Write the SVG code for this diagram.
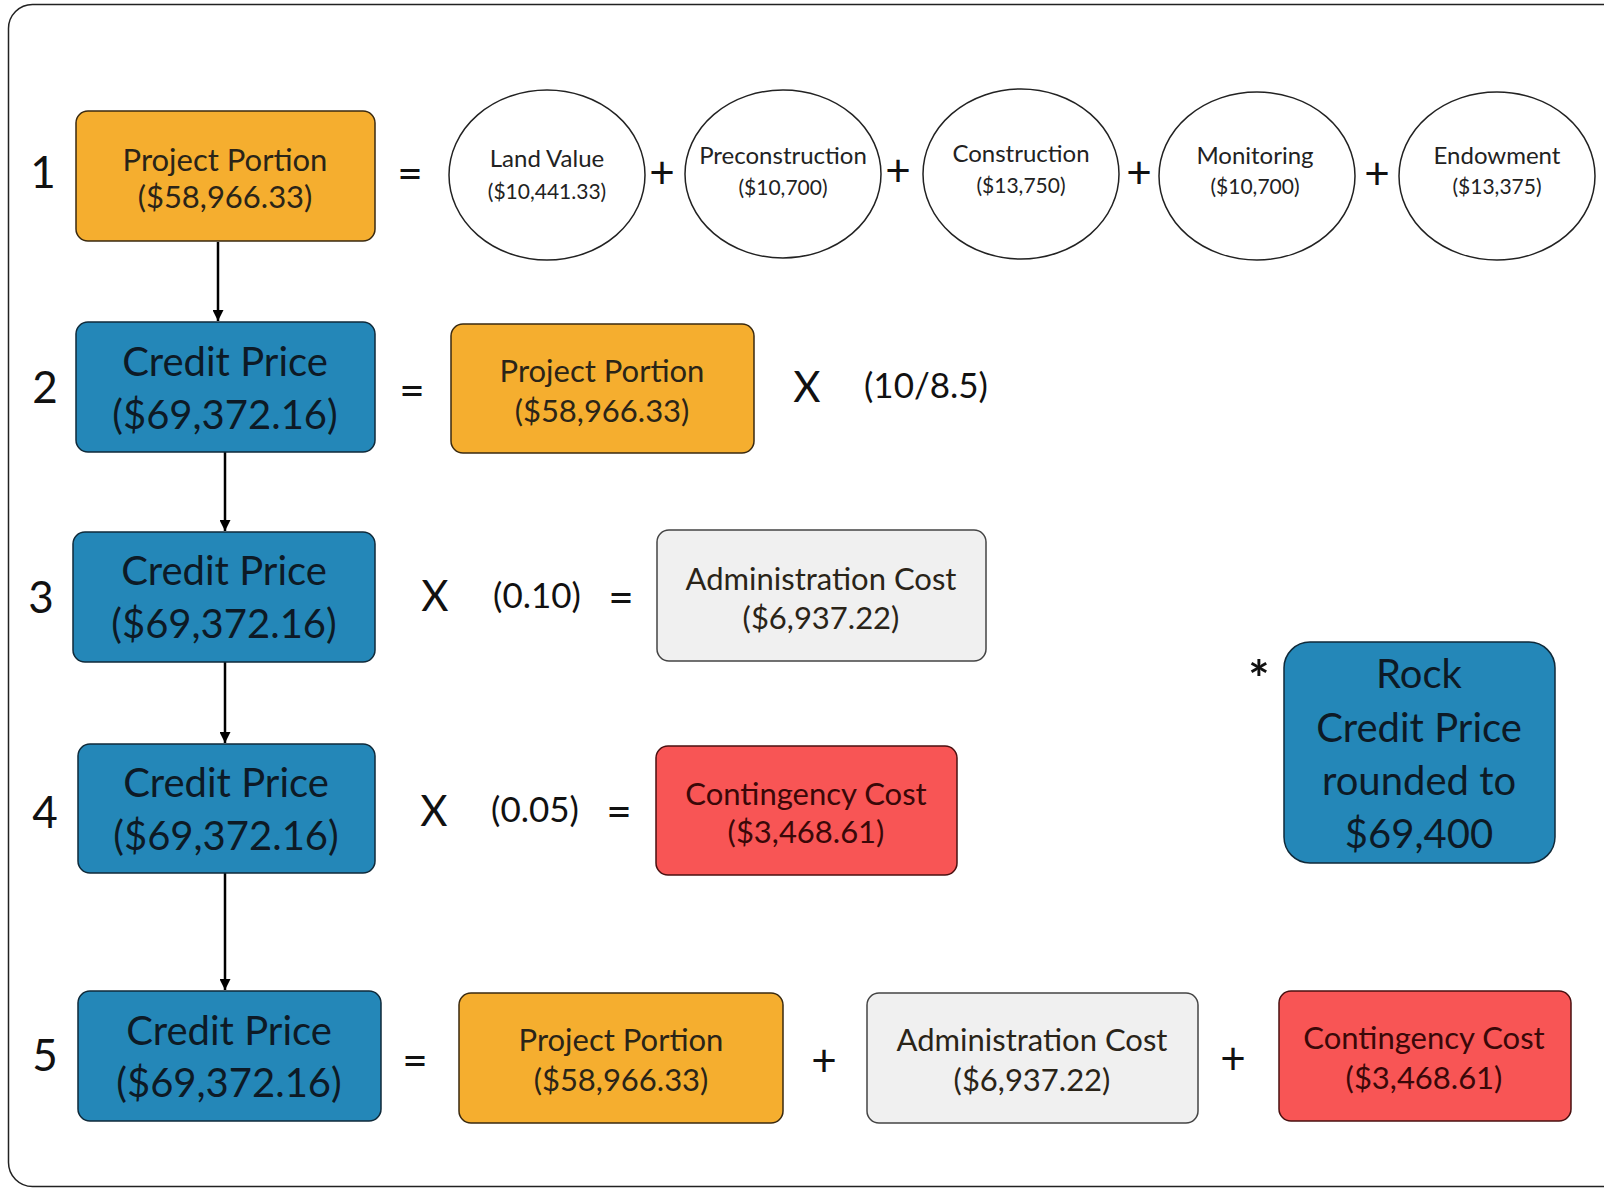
<svg xmlns="http://www.w3.org/2000/svg" width="1604" height="1189" viewBox="0 0 1604 1189">
<defs>
<marker id="arr" viewBox="0 0 10 10" refX="10" refY="5" markerWidth="14" markerHeight="11" orient="auto" markerUnits="userSpaceOnUse"><path d="M0,0 L10,5 L0,10 z" fill="#000"/></marker>
<style>
text{font-family:Lato,"Liberation Sans",sans-serif;text-anchor:middle;dominant-baseline:central;}
.num{font-size:44px;fill:#111;}
.op{font-size:44px;fill:#111;}
.par{font-size:35px;fill:#111;}
.x{font-size:42px;fill:#111;}
.star{font-size:50px;fill:#111;font-weight:bold;}
.orange{fill:#F5AE2F;stroke:#3a2a10;stroke-width:1.5;}
.blue{fill:#2487B8;stroke:#0f2a3a;stroke-width:1.5;}
.gray{fill:#F0F0F0;stroke:#444;stroke-width:1.5;}
.red{fill:#F85555;stroke:#4a1010;stroke-width:1.5;}
.ell{fill:#fff;stroke:#222;stroke-width:1.5;}
.t30{font-size:31px;fill:#2a2418;}
.t40{font-size:40px;fill:#0d1a26;}
.tr{font-size:31px;fill:#3a0808;}
.e1{font-size:24px;fill:#222;}
.e2{font-size:21px;fill:#222;}
.conn{stroke:#000;stroke-width:2.5;fill:none;}
</style>
</defs>
<rect x="8.5" y="4.5" width="1620" height="1182" rx="24" fill="#fff" stroke="#222" stroke-width="1.5"/>

<g id="connectors">
<line class="conn" x1="218" y1="242" x2="218" y2="321" marker-end="url(#arr)"/>
<line class="conn" x1="225" y1="452" x2="225" y2="531" marker-end="url(#arr)"/>
<line class="conn" x1="225" y1="662" x2="225" y2="743" marker-end="url(#arr)"/>
<line class="conn" x1="225" y1="873" x2="225" y2="990" marker-end="url(#arr)"/>
</g>

<g id="row1">
<text class="num" x="43" y="171">1</text>
<g id="pp1"><rect class="orange" x="76" y="111" width="299" height="130" rx="12"/><text class="t30" x="225" y="159">Project Portion</text><text class="t30" x="225" y="196">($58,966.33)</text></g>
<text class="op" x="410" y="172">=</text>
<g id="land"><ellipse class="ell" cx="547" cy="175" rx="98" ry="85"/><text class="e1" x="547" y="157">Land Value</text><text class="e2" x="547" y="190">($10,441.33)</text></g>
<text class="op" x="662" y="171">+</text>
<g id="precon"><ellipse class="ell" cx="783" cy="174" rx="98" ry="84"/><text class="e1" x="783" y="154">Preconstruction</text><text class="e2" x="783" y="186">($10,700)</text></g>
<text class="op" x="898" y="169">+</text>
<g id="constr"><ellipse class="ell" cx="1021" cy="174" rx="98" ry="85"/><text class="e1" x="1021" y="152">Construction</text><text class="e2" x="1021" y="184">($13,750)</text></g>
<text class="op" x="1139" y="171">+</text>
<g id="monit"><ellipse class="ell" cx="1257" cy="176" rx="98" ry="84"/><text class="e1" x="1255" y="154">Monitoring</text><text class="e2" x="1255" y="185">($10,700)</text></g>
<text class="op" x="1377" y="172">+</text>
<g id="endow"><ellipse class="ell" cx="1497" cy="176" rx="98" ry="84"/><text class="e1" x="1497" y="154">Endowment</text><text class="e2" x="1497" y="185">($13,375)</text></g>
</g>

<g id="row2">
<text class="num" x="45" y="386">2</text>
<g id="cp2"><rect class="blue" x="76" y="322" width="299" height="130" rx="12"/><text class="t40" x="225" y="361">Credit Price</text><text class="t40" x="225" y="414">($69,372.16)</text></g>
<text class="op" x="412" y="389">=</text>
<g id="pp2"><rect class="orange" x="451" y="324" width="303" height="129" rx="12"/><text class="t30" x="602" y="370">Project Portion</text><text class="t30" x="602" y="410">($58,966.33)</text></g>
<text class="x" x="807" y="386">X</text>
<text class="par" x="926" y="384">(10/8.5)</text>
</g>

<g id="row3">
<text class="num" x="41" y="596">3</text>
<g id="cp3"><rect class="blue" x="73" y="532" width="302" height="130" rx="12"/><text class="t40" x="224" y="570">Credit Price</text><text class="t40" x="224" y="623">($69,372.16)</text></g>
<text class="x" x="435" y="595">X</text>
<text class="par" x="537" y="594">(0.10)</text>
<text class="op" x="621" y="596">=</text>
<g id="admin3"><rect class="gray" x="657" y="530" width="329" height="131" rx="12"/><text class="t30" x="821" y="578">Administration Cost</text><text class="t30" x="821" y="617">($6,937.22)</text></g>
</g>

<g id="row4">
<text class="num" x="45" y="811">4</text>
<g id="cp4"><rect class="blue" x="78" y="744" width="297" height="129" rx="12"/><text class="t40" x="226" y="782">Credit Price</text><text class="t40" x="226" y="835">($69,372.16)</text></g>
<text class="x" x="434" y="810">X</text>
<text class="par" x="535" y="808">(0.05)</text>
<text class="op" x="619" y="810">=</text>
<g id="cont4"><rect class="red" x="656" y="746" width="301" height="129" rx="12"/><text class="tr" x="806" y="793">Contingency Cost</text><text class="tr" x="806" y="831">($3,468.61)</text></g>
</g>

<g id="rock">
<text class="star" x="1259" y="678">*</text>
<rect class="blue" x="1284" y="642" width="271" height="221" rx="26"/>
<text class="t40" x="1419" y="673">Rock</text>
<text class="t40" x="1419" y="727">Credit Price</text>
<text class="t40" x="1419" y="780">rounded to</text>
<text class="t40" x="1419" y="833">$69,400</text>
</g>

<g id="row5">
<text class="num" x="45" y="1054">5</text>
<g id="cp5"><rect class="blue" x="78" y="991" width="303" height="130" rx="12"/><text class="t40" x="229" y="1030">Credit Price</text><text class="t40" x="229" y="1082">($69,372.16)</text></g>
<text class="op" x="415" y="1059">=</text>
<g id="pp5"><rect class="orange" x="459" y="993" width="324" height="130" rx="12"/><text class="t30" x="621" y="1039">Project Portion</text><text class="t30" x="621" y="1079">($58,966.33)</text></g>
<text class="op" x="824" y="1059">+</text>
<g id="admin5"><rect class="gray" x="867" y="993" width="331" height="130" rx="12"/><text class="t30" x="1032" y="1039">Administration Cost</text><text class="t30" x="1032" y="1079">($6,937.22)</text></g>
<text class="op" x="1233" y="1057">+</text>
<g id="cont5"><rect class="red" x="1279" y="991" width="292" height="130" rx="12"/><text class="tr" x="1424" y="1037">Contingency Cost</text><text class="tr" x="1424" y="1077">($3,468.61)</text></g>
</g>
</svg>
